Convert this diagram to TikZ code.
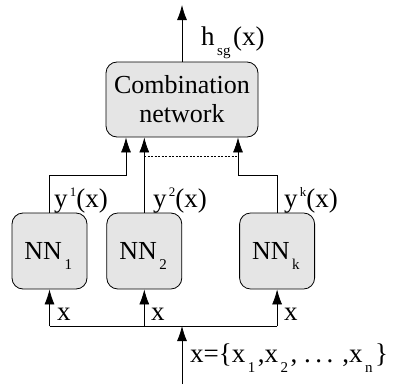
\documentclass[tikz,border=0pt]{standalone}
\usepackage{fontspec}
\setmainfont{Liberation Serif}
\usetikzlibrary{positioning}
\usetikzlibrary{arrows.meta}
\tikzstyle{block} = [draw, line width=0.8pt, rounded corners=11pt, fill=black!10, align=center]
\tikzstyle{nnbox} = [block, minimum width=75pt, minimum height=76pt]
\tikzstyle{arrow} = [line width=0.8pt, -{Latex[length=15pt,width=10pt]}]
\tikzstyle{wire} = [line width=0.8pt]
\tikzstyle{tag} = [anchor=base west, inner sep=0, font=\fontsize{27}{29}\selectfont]
\newcommand{\lowsub}[1]{\raisebox{-10pt}[0pt][0pt]{\fontsize{15}{15}\selectfont\,#1\,}}
\newcommand{\highsup}[1]{\raisebox{11pt}[0pt][0pt]{\fontsize{13}{13}\selectfont\,#1}}

\begin{document}
\begin{tikzpicture}[x=1pt, y=1pt, font=\fontsize{26}{29}\selectfont]
            \useasboundingbox (0,0) rectangle (393,384);
            \node (comb) [block, minimum width=152pt, minimum height=75pt] at (182,284.5) {Combination\\network};
            \node (nn1) [nnbox] at (49.5,133) {NN\lowsub{1}};
            \node (nn2) [nnbox, right=19pt of nn1] {NN\lowsub{2}};
            \node (nnk) [nnbox, right=57pt of nn2] {NN\lowsub{k}};
            \coordinate (out) at (182,379);
            \coordinate (c1) at (126,209);
            \coordinate (ck) at (238,209);
            \coordinate (d1) at (144,228);
            \coordinate (d2) at (238,228);
            \coordinate (split) at (182,58);
            \coordinate (in) at (182,0);
            % outputs
            \draw [arrow] (comb.north) -- (out);
            \draw [arrow] (nn1.north) |- (c1) -- (c1 |- comb.south);
            \draw [arrow] (nn2.north) -- (nn2.north |- comb.south);
            \draw [arrow] (nnk.north) |- (ck) -- (ck |- comb.south);
            \draw [wire, dash pattern=on 2pt off 1.5pt] (d1) -- (d2);
            % inputs
            \draw [arrow] (in) -- (split);
            \draw [wire] (nn1.south |- split) -- (nnk.south |- split);
            \draw [arrow] (nn1.south |- split) -- (nn1.south);
            \draw [arrow] (nn2.south |- split) -- (nn2.south);
            \draw [arrow] (nnk.south |- split) -- (nnk.south);
            % labels
            \node (hsg) [tag] at (201,339) {h\lowsub{sg}(x)};
            \node (y1) [tag] at (54,177) {y\highsup{1}(x)};
            \node (y2) [tag] at (153,177) {y\highsup{2}(x)};
            \node (yk) [tag] at (284,177) {y\highsup{k}(x)};
            \node (x1) [tag] at (57,64) {x};
            \node (x2) [tag] at (151,64) {x};
            \node (xk) [tag] at (284,64) {x};
            \node (xin) [tag] at (190,22) {x=\{x\lowsub{1},x\lowsub{2}, .\,.\,. ,x\lowsub{n}\}};
        \end{tikzpicture}
\end{document}
